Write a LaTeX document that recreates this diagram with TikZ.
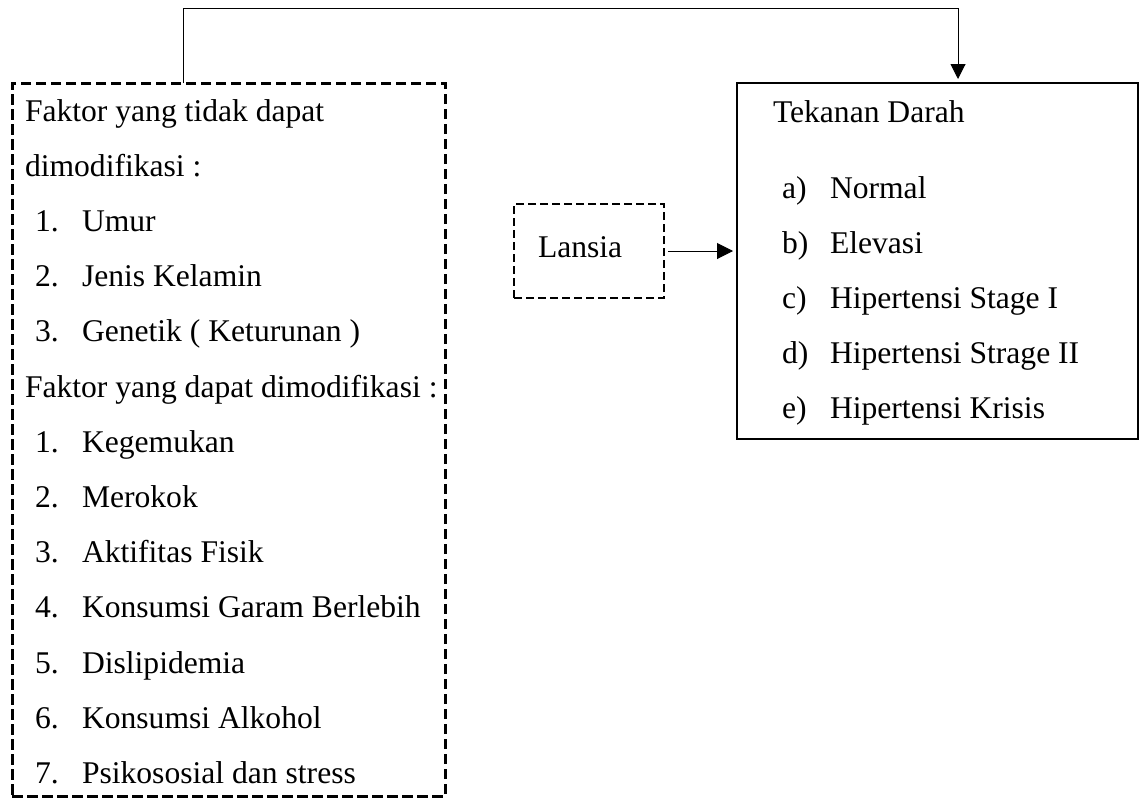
\documentclass[tikz,border=0pt]{standalone}
\usepackage{fontspec}
\setmainfont{Liberation Serif}
\usetikzlibrary{arrows.meta}
\begin{document}
\begin{tikzpicture}[x=1pt,y=-1pt,
  txt/.style={anchor=base west,inner sep=0pt,outer sep=0pt,font=\fontsize{31.6}{32}\selectfont},
  bigdash/.style={draw,line width=3pt,dash pattern=on 10.5pt off 4.5pt,inner sep=0pt,outer sep=0pt,anchor=north west},
  smalldash/.style={draw,line width=2pt,dash pattern=on 8pt off 4pt,inner sep=0pt,outer sep=0pt,anchor=north west},
  solidbox/.style={draw,line width=2pt,inner sep=0pt,outer sep=0pt,anchor=north west},
  conn/.style={line width=1pt},
  arr/.style={line width=1pt,-{Triangle[length=15pt,width=15pt]}},
  arrb/.style={line width=1pt,-{Triangle[length=16pt,width=16pt]}}]
\useasboundingbox (0,0) rectangle (1145,798);
% boxes
\node[bigdash,minimum width=433pt,minimum height=713pt] (L) at (12,83) {};
\node[smalldash,minimum width=150pt,minimum height=94pt] (La) at (514,204) {};
\node[solidbox,minimum width=401pt,minimum height=356pt] (R) at (737,83) {};
% left texts
\node[txt] (l0) at (25,121) {Faktor yang tidak dapat};
\node[txt] (l1) at (25,176.2) {dimodifikasi :};
\node[txt] (n1) at (35,231.4) {1.};
\node[txt] (t1) at (82,231.4) {Umur};
\node[txt] (n2) at (35,286.6) {2.};
\node[txt] (t2) at (82,286.6) {Jenis Kelamin};
\node[txt] (n3) at (35,341.8) {3.};
\node[txt] (t3) at (82,341.8) {Genetik ( Keturunan )};
\node[txt] (l2) at (25,397) {Faktor yang dapat dimodifikasi :};
\node[txt] (m1) at (35,452.2) {1.};
\node[txt] (s1) at (82,452.2) {Kegemukan};
\node[txt] (m2) at (35,507.4) {2.};
\node[txt] (s2) at (82,507.4) {Merokok};
\node[txt] (m3) at (35,562.6) {3.};
\node[txt] (s3) at (82,562.6) {Aktifitas Fisik};
\node[txt] (m4) at (35,617.8) {4.};
\node[txt] (s4) at (82,617.8) {Konsumsi Garam Berlebih};
\node[txt] (m5) at (35,673) {5.};
\node[txt] (s5) at (82,673) {Dislipidemia};
\node[txt] (m6) at (35,728.2) {6.};
\node[txt] (s6) at (82,728.2) {Konsumsi Alkohol};
\node[txt] (m7) at (35,783.4) {7.};
\node[txt] (s7) at (82,783.4) {Psikososial dan stress};
% Lansia
\node[txt] (lan) at (538,257) {Lansia};
% right texts
\node[txt] (r0) at (773,122) {Tekanan Darah};
\node[txt] (ra) at (782,198) {a)};
\node[txt] (rat) at (830,198) {Normal};
\node[txt] (rb) at (782,253) {b)};
\node[txt] (rbt) at (830,253) {Elevasi};
\node[txt] (rc) at (782,308) {c)};
\node[txt] (rct) at (830,308) {Hipertensi Stage I};
\node[txt] (rd) at (782,363) {d)};
\node[txt] (rdt) at (830,363) {Hipertensi Strage II};
\node[txt] (re) at (782,418) {e)};
\node[txt] (ret) at (830,418) {Hipertensi Krisis};
% connectors
\coordinate (a0) at (183,83);
\coordinate (a1) at (958,8);
\coordinate (a2) at (958,79);
\draw[conn] (a0) |- (a1);
\draw[arr] (a1) -- (a2);
\coordinate (b0) at (668,251);
\coordinate (b1) at (733,251);
\draw[arrb] (b0) -- (b1);
\end{tikzpicture}
\end{document}
